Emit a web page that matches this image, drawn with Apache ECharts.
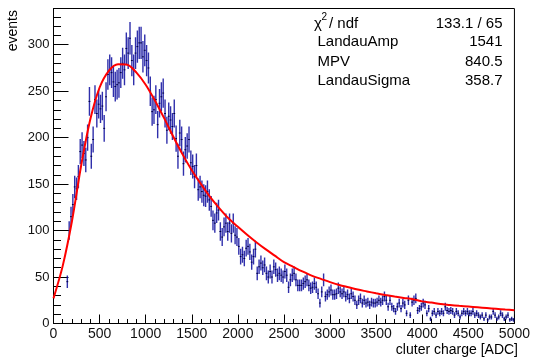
<!DOCTYPE html>
<html>
<head>
<meta charset="utf-8">
<script src="https://cdn.jsdelivr.net/npm/echarts@6/dist/echarts.min.js"></script>
<style>
  html, body { margin: 0; padding: 0; background: #fff; }
  #chart { width: 533px; height: 357px; }
</style>
</head>
<body>
<div id="chart"></div>
<script>
// ---- Data ----
const binWidth = 20;        // ADC per bin
const xMin = 0, xMax = 5000;
const yMax = 339;
// bin contents, 250 bins of 20 ADC (null = empty bin, not drawn)
const counts = [
  null,null,null,null,null,null,null,
  45,100,115,128,147,145,158,185,192,183,176,200,239,180,198,241,226,236,231,234,210,244,268,273,270,260,255,257,259,270,280,273,296,291,307,283,273,291,298,302,302,287,294,283,275,250,228,
  230,241,214,237,244,248,226,208,223,219,212,226,
  199,180,205,198,172,187,191,198,173,169,158,170,144,147,142,138,137,142,133,126,111,108,119,122,99,93,104,108,99,108,97,108,95,93,83,72,74,70,81,
  83,77,66,72,80,54,61,65,60,63,54,50,56,50,61,58,52,54,52,50,56,52,39,47,52,54,47,41,41,41,43,45,47,41,38,39,43,39,32,22,34,47,29,31,34,36,31,31,32,38,34,
  32,34,29,31,27,32,29,25,20,25,27,22,25,22,23,20,23,22,22,23,25,23,25,29,25,18,25,18,16,13,18,22,16,22,20,11,25,9,23,25,27,14,16,18,22,20,11,16,5,11,13,
  9,13,11,13,11,18,14,13,14,13,9,13,11,7,11,13,11,13,11,11,13,9,11,9,7,9,5,9,4,7,7,13,9,5,7,11,9,5,7,9,4,5,4
];
// fit curve, every 100 ADC from 0 to 5000
const fitStep = 100;
const fitY = [
  27,62,110,170,220,254,272,279,278.5,270,
  257,240,221,201,182,165,150,136,124,113,
  104,95.5,87.5,80,73,66,61,56,51.5,48,
  44.5,41.5,39,36.5,34.5,32.5,30.7,29,27.5,26,
  23.8,22.5,21,20,19,18.2,17.4,16.6,15.8,15,
  14.3
];
const xTicks = [0,500,1000,1500,2000,2500,3000,3500,4000,4500,5000];
const yTicks = [0,50,100,150,200,250,300];
const statsLabels = ['LandauAmp','MPV','LandauSigma'];
const statsValues = ['133.1 / 65','1541','840.5','358.7'];
const xTitle = 'cluter charge [ADC]';
const yTitle = 'events';

// ---- Build ----
const histData = [];
counts.forEach((v, i) => { if (v !== null) histData.push([xMin + binWidth * i + binWidth / 2, v]); });
const fitData = fitY.map((y, i) => [xMin + i * fitStep, y]);

const FONT = '"Liberation Sans", Arial, Helvetica, sans-serif';
const barColor = '#0a0a9c';

const chart = echarts.init(document.getElementById('chart'), null, { renderer: 'canvas' });

const textEls = [];
// stats texts
textEls.push({ type: 'text', x: 314, y: 24, z: 101, style: { text: 'χ', font: '15px ' + FONT, fill: '#000', verticalAlign: 'middle' } });
textEls.push({ type: 'text', x: 321.5, y: 17, z: 101, style: { text: '2', font: '10px ' + FONT, fill: '#000', verticalAlign: 'middle' } });
textEls.push({ type: 'text', x: 329, y: 24, z: 101, style: { text: '/ ndf', font: '15px ' + FONT, fill: '#000', verticalAlign: 'middle' } });
const rowY = [24, 41.5, 61.5, 81];
statsLabels.forEach((t, i) => {
  textEls.push({ type: 'text', x: 317.5, y: rowY[i + 1], z: 101, style: { text: t, font: '15px ' + FONT, fill: '#000', verticalAlign: 'middle' } });
});
statsValues.forEach((t, i) => {
  textEls.push({ type: 'text', x: 502.5, y: rowY[i], z: 101, style: { text: t, font: '15px ' + FONT, fill: '#000', align: 'right', verticalAlign: 'middle' } });
});
// axis titles
textEls.push({ type: 'text', x: 518, y: 350, style: { text: xTitle, font: '14px ' + FONT, fill: '#000', align: 'right', verticalAlign: 'middle' } });
textEls.push({ type: 'text', x: 13, y: 10, rotation: Math.PI / 2, style: { text: yTitle, font: '14px ' + FONT, fill: '#000', align: 'right', verticalAlign: 'middle' } });

const option = {
  animation: false,
  backgroundColor: '#fff',
  grid: { left: 53.5, right: 13.5, top: 8.5, bottom: 33.5, show: true, borderColor: '#000', borderWidth: 1, containLabel: false },
  xAxis: {
    type: 'value', min: xMin, max: xMax, interval: 500,
    axisLine: { show: true, lineStyle: { color: '#000', width: 1 } },
    axisTick: { show: true, inside: true, length: 9, lineStyle: { color: '#000' } },
    minorTick: { show: true, splitNumber: 5, length: 4.5, lineStyle: { color: '#000' } },
    splitLine: { show: false },
    axisLabel: { fontSize: 14, fontFamily: FONT, color: '#111', margin: 4,
      formatter: v => (xTicks.indexOf(v) >= 0 ? String(v) : '') }
  },
  yAxis: [{
    type: 'value', min: 0, max: yMax, interval: 50, position: 'left',
    axisLine: { show: true, lineStyle: { color: '#000', width: 1 } },
    axisTick: { show: true, inside: true, length: 15, lineStyle: { color: '#000' } },
    splitLine: { show: false },
    axisLabel: { fontSize: 13, fontFamily: FONT, color: '#111', margin: 4, showMaxLabel: false,
      formatter: v => (yTicks.indexOf(v) >= 0 ? String(v) : '') }
  }, {
    type: 'value', min: 0, max: yMax, interval: 10, position: 'left',
    axisLine: { show: false },
    axisTick: { show: true, inside: true, length: 7.5, lineStyle: { color: '#000' } },
    splitLine: { show: false },
    axisLabel: { show: false }
  }],
  series: [{
    type: 'custom',
    clip: true,
    data: histData,
    renderItem: (params, api) => {
      const x = api.value(0), y = api.value(1);
      const e = Math.sqrt(y);
      const t = api.coord([x, y + e]);
      const b = api.coord([x, Math.max(0, y - e)]);
      const l = api.coord([x - binWidth / 2, y]);
      const r = api.coord([x + binWidth / 2, y]);
      return { type: 'group', children: [
        { type: 'line', shape: { x1: t[0], y1: t[1], x2: b[0], y2: b[1] }, style: { stroke: barColor, lineWidth: 1.4, opacity: 0.85 } },
        { type: 'line', shape: { x1: l[0], y1: l[1], x2: r[0], y2: r[1] }, style: { stroke: '#000040', lineWidth: 1 } }
      ]};
    },
    z: 2
  }, {
    type: 'line',
    data: fitData,
    smooth: 0.3,
    showSymbol: false,
    lineStyle: { color: '#ff0000', width: 2 },
    z: 3
  }],
  graphic: textEls
};
chart.setOption(option);
</script>
</body>
</html>
